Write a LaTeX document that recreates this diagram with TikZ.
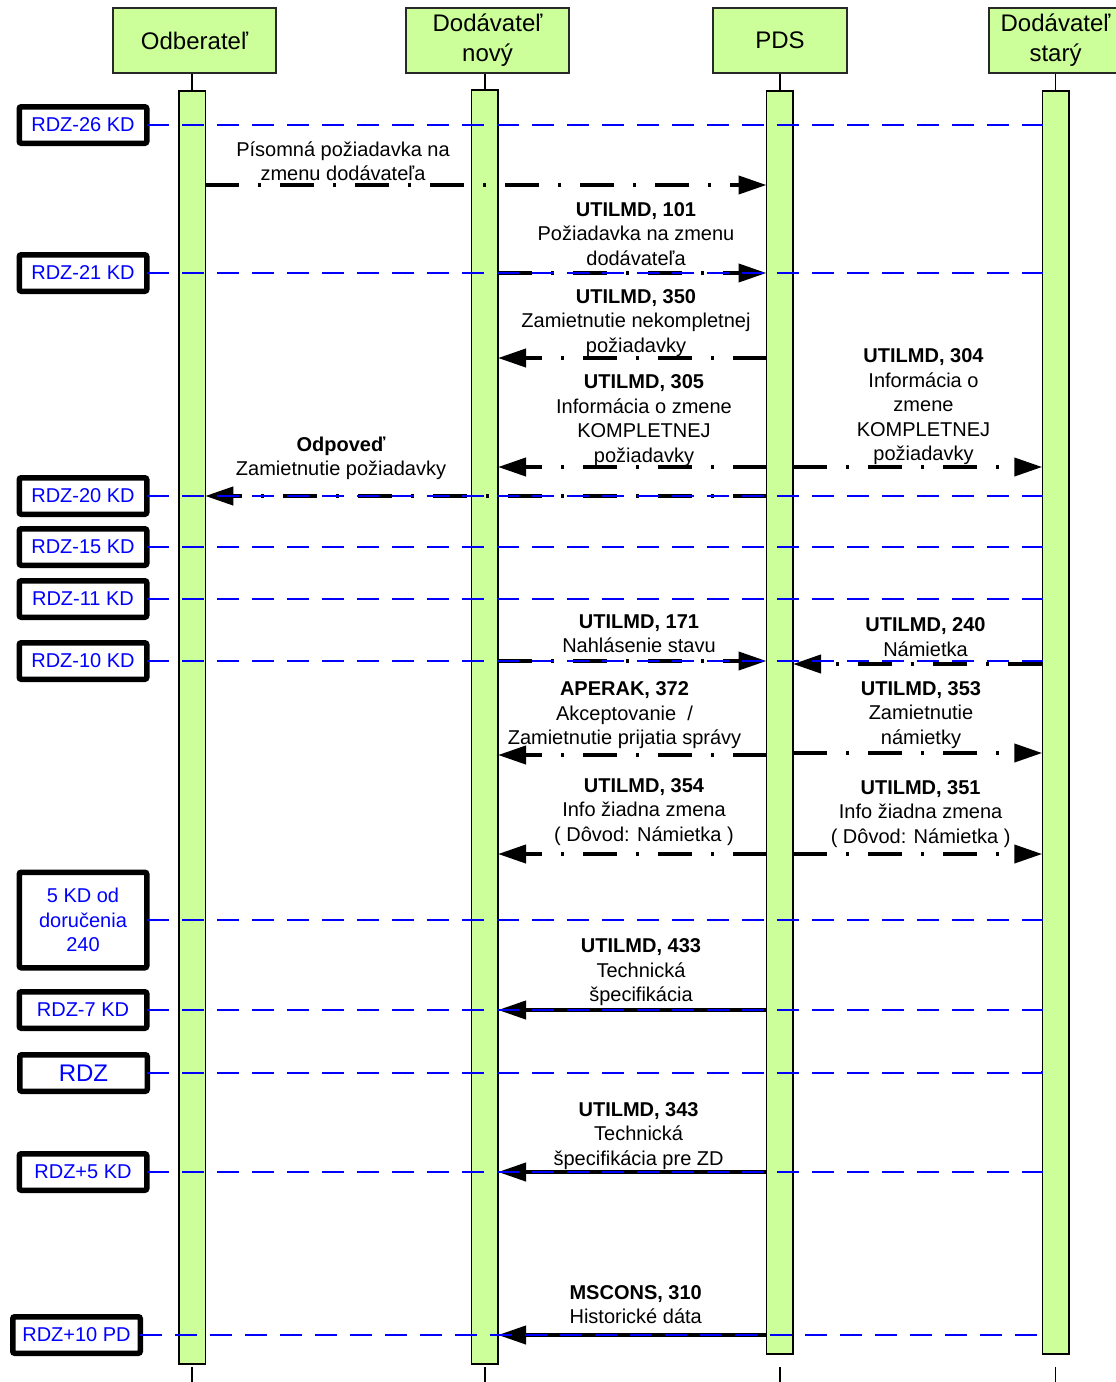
\documentclass[tikz,border=0pt]{standalone}
\usepackage{fontspec}
\setmainfont{Liberation Sans}
\usetikzlibrary{arrows.meta,calc,positioning}
\definecolor{lifegreen}{RGB}{204,255,153}
\definecolor{headedge}{RGB}{40,40,40}
\tikzset{
	head/.style = {draw = headedge, line width = 1.5pt, fill = lifegreen, minimum height = 65pt,
		inner sep = 0pt, align = center, font = \fontsize{24}{30}\selectfont},
	lifebar/.style = {draw = black, line width = 1.5pt, fill = lifegreen, minimum width = 26.5pt,
		inner sep = 0pt, outer sep = 0pt},
	datebox/.style = {draw = black, line width = 5.5pt, rounded corners = 2pt, fill = white, text = blue,
		minimum width = 127.5pt, minimum height = 36.5pt, inner sep = 0pt, outer sep = 0pt, align = center,
		font = \fontsize{20}{24.5}\selectfont},
	timeline/.style = {blue, line width = 1.6pt, dash pattern = on 22pt off 13pt},
	msgdash/.style = {line width = 4pt, dash pattern = on 34pt off 19pt on 3pt off 19pt,
		-{Triangle[length = 28pt, width = 18pt]}},
	msgsolid/.style = {line width = 4pt, -{Triangle[length = 28pt, width = 18pt]}},
	lbl/.style = {align = center, inner sep = 0pt, font = \fontsize{20}{24.5}\selectfont}
}

\begin{document}
\begin{tikzpicture}[x = 1pt, y = -1pt]
	\useasboundingbox (0,0) rectangle (1116,1382);
	
	% heads
	\node[head, minimum width = 163pt] (odb) at (194.5,40.5) {Odberateľ};
	\node[head, minimum width = 163pt] (nov) at (487.5,40.5) {Dodávateľ\\nový};
	\node[head, minimum width = 134pt] (pds) at (780,40.5) {PDS};
	\node[head, minimum width = 133pt] (sta) at (1055.5,40.5) {Dodávateľ\\starý};
	
	% bars
	\node[lifebar, minimum height = 1273pt] (odb-bar) at (192,727.5) {};
	\node[lifebar, minimum height = 1274pt] (nov-bar) at (484.75,727) {};
	\node[lifebar, minimum height = 1263pt] (pds-bar) at (779.75,722.5) {};
	\node[lifebar, minimum height = 1263pt] (sta-bar) at (1055.5,722.5) {};
	
	\foreach \p in {odb,nov,pds,sta} {
		\draw[line width = 1.5pt] (\p-bar.north) -- (\p-bar.north |- \p.south);
		\draw[line width = 1.5pt] (\p-bar.center |- 0,1367) -- (\p-bar.center |- 0,1382);
	}
	
	% messages
	\draw[msgdash] (odb-bar.east |- 0,185) -- (pds-bar.west |- 0,185);
	\node[lbl] (pisomna) at (343,161) {Písomná požiadavka na\\zmenu dodávateľa};
	
	\draw[msgdash] (nov-bar.east |- 0,273) -- (pds-bar.west |- 0,273);
	\node[lbl] (m101) at (636,234) {\textbf{UTILMD, 101}\\Požiadavka na zmenu\\dodávateľa};
	
	\draw[msgdash] (pds-bar.west |- 0,358) -- (nov-bar.east |- 0,358);
	\node[lbl] (m350) at (636,323) {\textbf{UTILMD, 350}\\Zamietnutie nekompletnej\\požiadavky};
	
	\draw[msgdash] (pds-bar.west |- 0,467) -- (nov-bar.east |- 0,467);
	\node[lbl] (m305) at (644,420.5) {\textbf{UTILMD, 305}\\Informácia o zmene\\KOMPLETNEJ\\požiadavky};
	
	\draw[msgdash] (pds-bar.east |- 0,467) -- (sta-bar.west |- 0,467);
	\node[lbl] (m304) at (923.5,407) {\textbf{UTILMD, 304}\\Informácia o\\zmene\\KOMPLETNEJ\\požiadavky};
	
	\draw[msgdash] (pds-bar.west |- 0,496) -- (odb-bar.east |- 0,496);
	\node[lbl] (odpoved) at (341,458.5) {\textbf{Odpoveď}\\Zamietnutie požiadavky};
	
	\draw[msgdash] (nov-bar.east |- 0,661) -- (pds-bar.west |- 0,661);
	\node[lbl] (m171) at (639,633.5) {\textbf{UTILMD, 171}\\Nahlásenie stavu};
	
	\draw[msgdash] (sta-bar.west |- 0,664) -- (pds-bar.east |- 0,664);
	\node[lbl] (m240) at (925.5,637) {\textbf{UTILMD, 240}\\Námietka};
	
	\draw[msgdash] (pds-bar.west |- 0,755) -- (nov-bar.east |- 0,755);
	\node[lbl] (m372) at (624.5,715.3) {\textbf{APERAK, 372}\\Akceptovanie\ \ /\\Zamietnutie prijatia správy};
	
	\draw[msgdash] (pds-bar.east |- 0,753) -- (sta-bar.west |- 0,753);
	\node[lbl] (m353) at (921,714.7) {\textbf{UTILMD, 353}\\Zamietnutie\\námietky};
	
	\draw[msgdash] (pds-bar.west |- 0,854) -- (nov-bar.east |- 0,854);
	\node[lbl] (m354) at (644,811.7) {\textbf{UTILMD, 354}\\Info žiadna zmena\\( Dôvod: Námietka )};
	
	\draw[msgdash] (pds-bar.east |- 0,854) -- (sta-bar.west |- 0,854);
	\node[lbl] (m351) at (920.6,813.7) {\textbf{UTILMD, 351}\\Info žiadna zmena\\( Dôvod: Námietka )};
	
	\draw[msgsolid] (pds-bar.west |- 0,1010) -- (nov-bar.east |- 0,1010);
	\node[lbl] (m433) at (641,972.3) {\textbf{UTILMD, 433}\\Technická\\špecifikácia};
	
	\draw[msgsolid] (pds-bar.west |- 0,1172) -- (nov-bar.east |- 0,1172);
	\node[lbl] (m343) at (638.6,1135.7) {\textbf{UTILMD, 343}\\Technická\\špecifikácia pre ZD};
	
	\draw[msgsolid] (pds-bar.west |- 0,1335) -- (nov-bar.east |- 0,1335);
	\node[lbl] (m310) at (635.7,1304.5) {\textbf{MSCONS, 310}\\Historické dáta};
	
	% deadlines
	\foreach \d/\yy/\txt in {d26/125/RDZ-26 KD, d21/273/RDZ-21 KD, d20/496/RDZ-20 KD,
		d15/547/RDZ-15 KD, d11/599/RDZ-11 KD, d10/661/RDZ-10 KD, d7/1010/RDZ-7 KD,
		d5/1172/RDZ+5 KD}
		\node[datebox] (\d) at (83,\yy) {\txt};
	\node[datebox, minimum height = 95.5pt] (dnam) at (83,920) {5 KD od\\doručenia\\240};
	\node[datebox, font = \fontsize{24}{30}\selectfont] (d0) at (83.5,1073) {RDZ};
	\node[datebox] (dp10) at (76.5,1335) {RDZ+10 PD};
	
	\foreach \d in {d26,d21,d20,d15,d11,d10,dnam,d7,d0,d5,dp10}
		\draw[timeline] (\d.east) -- (sta-bar.west |- \d.east) -- ++(0,-6);
	
\end{tikzpicture}
\end{document}
